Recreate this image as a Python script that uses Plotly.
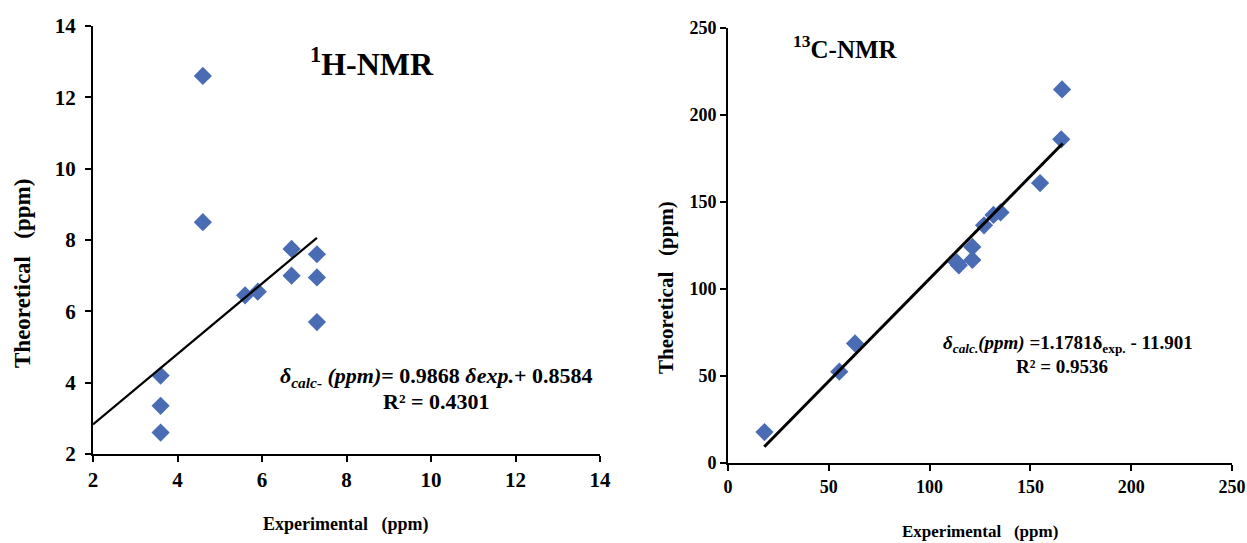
import plotly.graph_objects as go

# 1H-NMR data
h_exp = [4.6, 4.6, 6.7, 7.3, 6.7, 7.3, 5.6, 5.9, 7.3, 3.6, 3.6, 3.6]
h_theo = [12.6, 8.5, 7.75, 7.6, 7.0, 6.95, 6.45, 6.55, 5.7, 4.2, 3.35, 2.6]
h_slope, h_icpt = 0.9868, 0.8584
h_fit_x = [2.0, 7.3]

# 13C-NMR data
c_exp = [18.1, 55.2, 63.0, 113.5, 114.5, 121.2, 121.2, 127.0, 131.7, 135.2, 154.8, 165.3, 165.7]
c_theo = [17.8, 52.5, 68.7, 115.3, 113.6, 124.2, 116.7, 136.6, 142.6, 144.0, 160.9, 186.0, 214.7]
c_slope, c_icpt = 1.1781, -11.901
c_fit_x = [18.0, 166.0]

h_ticks = [2, 4, 6, 8, 10, 12, 14]
c_ticks = [0, 50, 100, 150, 200, 250]

FONT = "Liberation Serif"
MARK = "#4A6CB4"

fig = go.Figure()
fig.add_trace(go.Scatter(x=h_exp, y=h_theo, mode="markers",
                         marker=dict(symbol="diamond", size=14, color=MARK),
                         xaxis="x", yaxis="y", showlegend=False))
fig.add_trace(go.Scatter(x=h_fit_x, y=[h_slope * v + h_icpt for v in h_fit_x], mode="lines",
                         line=dict(color="black", width=2.2),
                         xaxis="x", yaxis="y", showlegend=False))
fig.add_trace(go.Scatter(x=c_exp, y=c_theo, mode="markers",
                         marker=dict(symbol="diamond", size=14, color=MARK),
                         xaxis="x2", yaxis="y2", showlegend=False))
fig.add_trace(go.Scatter(x=c_fit_x, y=[c_slope * v + c_icpt for v in c_fit_x], mode="lines",
                         line=dict(color="black", width=3),
                         xaxis="x2", yaxis="y2", showlegend=False))

def axstyle(size, standoff=0):
    return dict(showgrid=False, zeroline=False, showline=True, linecolor="black", linewidth=2,
                ticks="outside", ticklen=6, tickwidth=2, tickcolor="black",
                tickfont=dict(family=FONT, size=size, color="black"),
                ticklabelstandoff=standoff,
                automargin=False, fixedrange=True, ticklabeloverflow="allow")

def bold(vals):
    return ["<b>%s</b>" % v for v in vals]

W, H = 1247, 543
fig.update_layout(
    width=W, height=H, margin=dict(l=0, r=0, t=0, b=0, autoexpand=False),
    paper_bgcolor="white", plot_bgcolor="white",
    font=dict(family=FONT, color="black"),
    xaxis=dict(domain=[93 / W, 600 / W], range=[2, 14], tickvals=h_ticks, ticktext=bold(h_ticks),
               anchor="y", **axstyle(21)),
    yaxis=dict(domain=[(H - 454) / H, (H - 26) / H], range=[2, 14], tickvals=h_ticks, ticktext=bold(h_ticks),
               anchor="x", **axstyle(21, 5)),
    xaxis2=dict(domain=[728 / W, 1232 / W], range=[0, 250], tickvals=c_ticks, ticktext=bold(c_ticks),
                anchor="y2", **axstyle(18)),
    yaxis2=dict(domain=[(H - 463) / H, (H - 28) / H], range=[0, 250], tickvals=c_ticks, ticktext=bold(c_ticks),
                anchor="x2", **axstyle(18)),
)

def ann(text, x, y, size, angle=0, xanchor="center"):
    fig.add_annotation(text="<b>" + text + "</b>", x=x / W, y=1 - y / H, xref="paper", yref="paper",
                       showarrow=False, textangle=angle, xanchor=xanchor, yanchor="middle",
                       font=dict(family=FONT, size=size, color="black"))

ann("<sup>1</sup>H-NMR", 372, 62, 32)
ann("<sup>13</sup>C-NMR", 845, 47, 25)
ann("Experimental   (ppm)", 346, 524, 18)
ann("Experimental   (ppm)", 980, 531, 17)
ann("Theoretical   (ppm)", 22, 274, 23, angle=-90)
ann("Theoretical   (ppm)", 666, 288, 21, angle=-90)
ann("<i>δ<sub>calc-</sub> (ppm)</i>= 0.9868 <i>δexp.</i>+ 0.8584", 436, 377, 22)
ann("R² = 0.4301", 436, 401, 22)
ann("<i>δ<sub>calc.</sub>(ppm)</i> =1.1781δ<sub>exp.</sub> - 11.901", 1068, 344, 19)
ann("R² = 0.9536", 1062, 366, 19)

fig.write_html("out.html")
